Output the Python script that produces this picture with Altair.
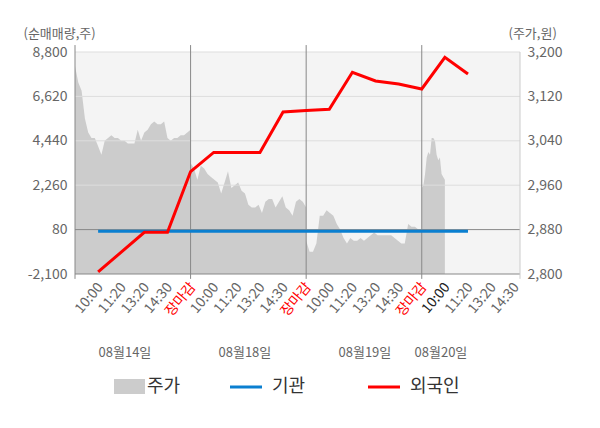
import altair as alt
import pandas as pd
import numpy as np

FONT = "Noto Sans CJK KR"

# ---- data ----
x_labels = ["10:00", "11:20", "13:20", "14:30", "장마감"] * 3 + ["10:00", "11:20", "13:20", "14:30"]
date_labels = ["08월14일", "08월18일", "08월19일", "08월20일"]
date_pos = [2.16, 7.35, 12.54, 15.83]
legend_names = ["주가", "기관", "외국인"]

price_d1 = [3175, 3145, 3130, 3080, 3055, 3045, 3045, 3030, 3015, 3040, 3045, 3050,
            3045, 3045, 3040, 3040, 3035, 3035, 3035, 3060, 3040, 3055, 3060, 3070,
            3075, 3070, 3070, 3075, 3045, 3040, 3045, 3045, 3050, 3050, 3055, 3060]
price_d2 = [3000, 2990, 2970, 2995, 2990, 2980, 2975, 2970, 2965, 2945, 2965, 2985,
            2955, 2960, 2965, 2950, 2945, 2925, 2920, 2920, 2925, 2910, 2930, 2935,
            2935, 2920, 2930, 2940, 2920, 2915, 2905, 2930, 2935, 2930, 2920]
price_d3 = [2860, 2840, 2840, 2855, 2905, 2905, 2915, 2910, 2905, 2890, 2880, 2865,
            2855, 2865, 2860, 2860, 2865, 2860, 2865, 2870, 2875, 2870, 2870, 2870,
            2870, 2870, 2865, 2860, 2855, 2855, 2890, 2885, 2885, 2880, 2880]
price_d4 = [2955, 2960, 2980, 3010, 3020, 3015, 3045, 3045, 3040, 3015, 3005, 3010,
            2980, 2975, 2970]

inst = [0] * 17
foreign = [-2000, -1025, -50, -50, 2930, 3870, 3870, 3870, 5855, 5930, 5990,
           7805, 7375, 7230, 6985, 8540, 7720]

left_ticks = [-2100, 80, 2260, 4440, 6620, 8800]
right_ticks = [2800, 2880, 2960, 3040, 3120, 3200]

# ---- tables ----
P_MIN, P_MAX = 2800, 3200
Y_MIN, Y_MAX = -2100, 8800
X_MAX = 19.25

day_spans = [(0, 5), (5, 10), (10, 15), (15, 16)]
rows = []
for (a, b), d in zip(day_spans, [price_d1, price_d2, price_d3, price_d4]):
    for u, p in zip(np.linspace(a, b, len(d)), d):
        rows.append({"u": float(u), "price": p, "base": P_MIN})
price_df = pd.DataFrame(rows)

units = list(range(1, 18))
inst_df = pd.DataFrame({"u": units, "v": inst})
for_df = pd.DataFrame({"u": units, "v": foreign})

xl_colors = []
for i, lab in enumerate(x_labels):
    if lab == "장마감":
        xl_colors.append("#ff0000")
    elif i == 15:
        xl_colors.append("#222222")
    else:
        xl_colors.append("#666666")
xlab_df = pd.DataFrame({"u": list(range(1, 20)), "label": x_labels, "col": xl_colors})
date_df = pd.DataFrame({"u": date_pos, "label": date_labels})

xscale = alt.Scale(domain=[0, X_MAX], nice=False, zero=False)
yscale = alt.Scale(domain=[Y_MIN, Y_MAX], nice=False, zero=False)
pscale = alt.Scale(domain=[P_MIN, P_MAX], nice=False, zero=False)

LABEL_EXPR = "replace(format(datum.value, ',.0f'), '\u2212', '-')"

left_axis = alt.Axis(orient="left", values=left_ticks, labelExpr=LABEL_EXPR, labelFontSize=14,
                     labelColor="#666666", labelPadding=8, ticks=False, domain=False,
                     grid=False, title="(순매매량,주)", titleAngle=0, titleAlign="left",
                     titleX=-52, titleY=-19, titleBaseline="middle", titleFontSize=13,
                     titleFontWeight="normal", titleColor="#666666")
right_axis = alt.Axis(orient="right", values=right_ticks, labelExpr=LABEL_EXPR, labelFontSize=14,
                      labelColor="#666666", labelPadding=7, ticks=False, domain=False,
                      grid=False, title="(주가,원)", titleAngle=0, titleAlign="left",
                      titleX=-12, titleY=-19, titleBaseline="middle", titleFontSize=13,
                      titleFontWeight="normal", titleColor="#666666")

X = alt.X("u:Q", scale=xscale, axis=None)
YL = alt.Y("v:Q", scale=yscale, axis=left_axis)

area = alt.Chart(price_df).mark_area(color="#cccccc", opacity=1).encode(
    x=X,
    y=alt.Y("price:Q", scale=pscale, axis=right_axis),
    y2="base:Q",
)

grid_df = pd.DataFrame({"v": [t for t in left_ticks if t not in (Y_MIN, 80)]})
grid = alt.Chart(grid_df).mark_rule(color="#dddddd", strokeWidth=1).encode(
    y=YL, x=alt.value(0), x2=alt.value(445),
)
dark_df = pd.DataFrame({"v": [80, Y_MIN]})
dark_lines = alt.Chart(dark_df).mark_rule(color="#888888", strokeWidth=1).encode(
    y=YL, x=alt.value(0), x2=alt.value(445),
)
# vertical day separators, extending a little above the plot and below as ticks
vr_df = pd.DataFrame({"u": [0, 5, 10, 15], "v": [9140] * 4, "v2": [-2340] * 4})
day_rules = alt.Chart(vr_df).mark_rule(color="#888888", strokeWidth=1).encode(
    x=X, y=YL, y2="v2:Q",
)
end_df = pd.DataFrame({"u": [X_MAX], "v": [Y_MAX], "v2": [-2340]})
end_rule = alt.Chart(end_df).mark_rule(color="#cccccc", strokeWidth=1).encode(
    x=X, y=YL, y2="v2:Q",
)

blue = alt.Chart(inst_df).mark_line(color="#0a7fd0", strokeWidth=3).encode(x=X, y=YL)
red = alt.Chart(for_df).mark_line(color="#ff0000", strokeWidth=3).encode(x=X, y=YL)

xlabels = alt.Chart(xlab_df).mark_text(angle=310, align="right", baseline="middle",
                                       dx=4, fontSize=14).encode(
    x=X, y=alt.value(236), text="label:N", color=alt.Color("col:N", scale=None),
)
dates = alt.Chart(date_df).mark_text(align="center", baseline="middle", fontSize=13,
                                     color="#666666").encode(
    x=X, y=alt.value(301), text="label:N",
)

one = pd.DataFrame({"k": [1]})
leg_rect = alt.Chart(one).mark_rect(color="#cccccc").encode(
    x=alt.value(39), x2=alt.value(70), y=alt.value(327), y2=alt.value(342))
leg_blue = alt.Chart(one).mark_rule(color="#0a7fd0", strokeWidth=3).encode(
    x=alt.value(155), x2=alt.value(187), y=alt.value(335))
leg_red = alt.Chart(one).mark_rule(color="#ff0000", strokeWidth=3).encode(
    x=alt.value(293), x2=alt.value(325), y=alt.value(335))
leg_text_df = pd.DataFrame({"label": legend_names, "px": [72, 197, 335]})
leg_text = alt.Chart(leg_text_df).mark_text(align="left", baseline="middle", fontSize=18,
                                            color="#333333").encode(
    x=alt.X("px:Q", scale=None, axis=None), y=alt.value(335), text="label:N")

net = alt.layer(grid, dark_lines, day_rules, end_rule, blue, red,
                xlabels, dates, leg_rect, leg_blue, leg_red, leg_text)

chart = alt.layer(area, net).resolve_scale(y="independent").properties(
    width=445, height=222,
    padding={"left": 67, "top": 44, "right": 72, "bottom": 146},
    autosize=alt.AutoSizeParams(type="none"),
).configure(font=FONT).configure_view(fill="#f4f4f4", strokeWidth=0)

chart.save("out.html", embed_options={"renderer": "svg", "actions": False})
